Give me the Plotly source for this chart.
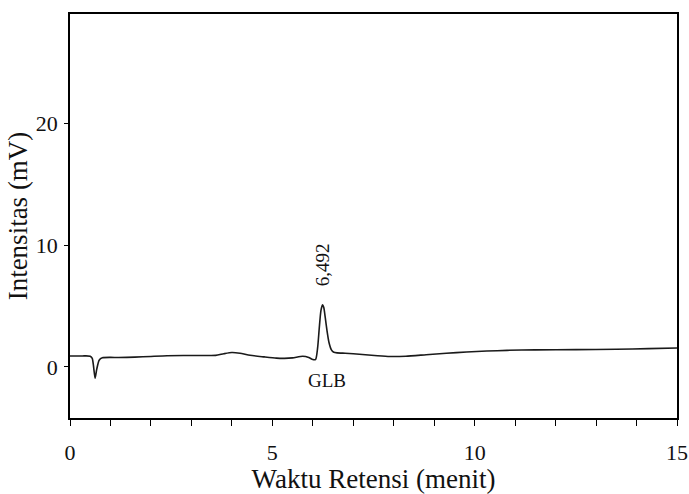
import plotly.graph_objects as go

# Retention time (min) and intensity (mV)
time_min = [0, 0.3, 0.5, 0.55, 0.58, 0.62, 0.66, 0.72, 0.8, 1.0, 1.2, 1.6, 2.0, 2.4, 2.8, 3.2, 3.6,
            3.8, 4.0, 4.2, 4.45, 4.8, 5.1, 5.3, 5.5, 5.75, 5.9, 6.0, 6.07, 6.12, 6.16, 6.2, 6.24,
            6.27, 6.31, 6.35, 6.4, 6.46, 6.52, 6.6, 6.8, 7.0, 7.3, 7.6, 7.9, 8.3, 8.8, 9.3, 9.8,
            10.3, 10.8, 11.5, 12.5, 13.5, 14.3, 15]
intensity_mv = [0.9, 0.9, 0.88, 0.7, 0.1, -0.93, -0.2, 0.55, 0.75, 0.78, 0.77, 0.8, 0.86, 0.92, 0.93,
                0.93, 0.95, 1.08, 1.18, 1.12, 0.95, 0.82, 0.72, 0.7, 0.74, 0.88, 0.78, 0.6, 0.62,
                1.6, 3.2, 4.6, 5.1, 4.9, 4.0, 3.0, 2.0, 1.4, 1.2, 1.15, 1.12, 1.08, 1.0, 0.92, 0.86,
                0.88, 1.0, 1.12, 1.22, 1.3, 1.36, 1.4, 1.42, 1.45, 1.5, 1.55]

x_ticks = [0, 5, 10, 15]
y_ticks = [0, 10, 20]

peak_label = "6,492"
peak_time = 6.24
peak_label_y = 8.4
compound_label = "GLB"
compound_label_y = -1.1

FONT = "Liberation Serif, Times New Roman, serif"

fig = go.Figure()
fig.add_trace(go.Scatter(
    x=time_min, y=intensity_mv, mode="lines",
    line=dict(color="#1a1a1a", width=1.6, shape="spline", smoothing=0.6),
    showlegend=False, hoverinfo="skip",
))

fig.add_annotation(x=peak_time, y=peak_label_y, text=peak_label, textangle=-90,
                   showarrow=False, font=dict(family=FONT, size=19, color="#111"))
fig.add_annotation(x=peak_time + 0.12, y=compound_label_y, text=compound_label,
                   showarrow=False, font=dict(family=FONT, size=19, color="#111"))

fig.update_layout(
    width=689, height=494,
    margin=dict(l=70, r=12, t=14, b=76),
    plot_bgcolor="white", paper_bgcolor="white",
    font=dict(family=FONT, color="#111"),
)
fig.update_xaxes(
    range=[0, 15], showgrid=False, zeroline=False,
    showline=True, linecolor="black", linewidth=1.5, mirror=True,
    ticks="outside", ticklen=6, tickwidth=1, tickcolor="black",
    tickvals=x_ticks, ticktext=[str(v) for v in x_ticks],
    minor=dict(ticks="outside", ticklen=6, tickwidth=1, tickcolor="black", dtick=1, tick0=0),
    tickfont=dict(size=22, family=FONT), ticklabelstandoff=8,
    title=dict(text="Waktu Retensi (menit)", font=dict(size=27, family=FONT), standoff=0),
    automargin=False,
)
fig.update_yaxes(
    range=[-4.2, 29], showgrid=False, zeroline=False,
    showline=True, linecolor="black", linewidth=1.5, mirror=True,
    ticks="outside", ticklen=4, tickwidth=1, tickcolor="black",
    tickvals=y_ticks, ticktext=[str(v) for v in y_ticks],
    tickfont=dict(size=22, family=FONT), ticklabelstandoff=2,
    title=dict(text="Intensitas (mV)", font=dict(size=27, family=FONT), standoff=0),
    automargin=False,
)

fig.write_html("out.html", config={"displayModeBar": False},
               post_script="document.body.style.margin='0';")
